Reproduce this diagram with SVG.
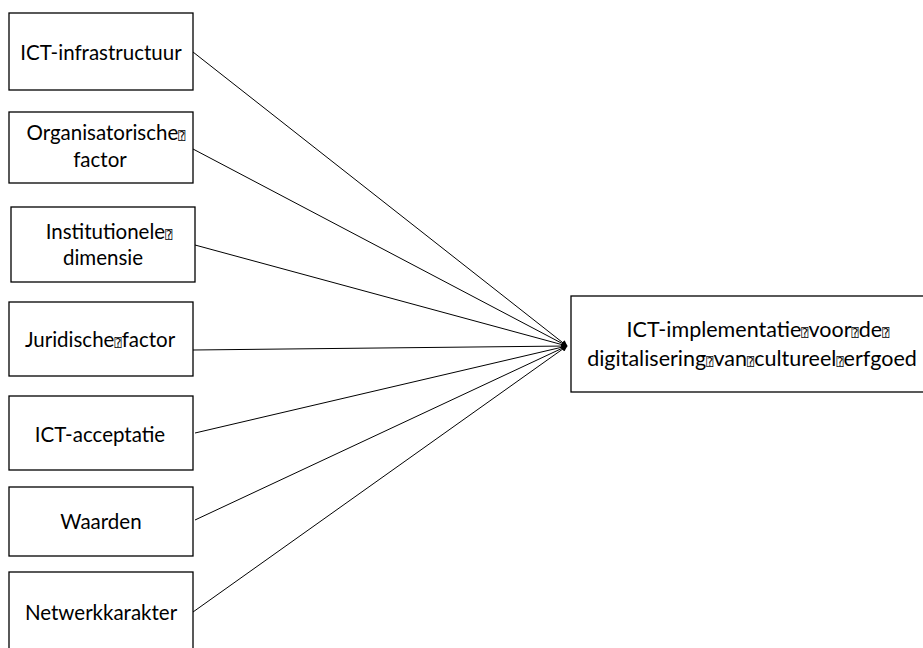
<svg xmlns="http://www.w3.org/2000/svg" width="923" height="648" viewBox="0 0 923 648">
<defs>
<style>
.box{fill:#fff;stroke:#000;stroke-width:1.3}
.t{font-family:Lato,"Liberation Sans",sans-serif;font-size:20.5px;fill:#000;text-anchor:middle}
.tt{font-family:Lato,"Liberation Sans",sans-serif;font-size:21.5px;fill:#000;text-anchor:middle}
.q{font-family:"DejaVu Sans Mono","DejaVu Sans",monospace;font-size:12px}
.c{stroke:#000;stroke-width:1;fill:none}
</style>
<marker id="ah" viewBox="0 0 10 10" refX="9" refY="5" markerWidth="6" markerHeight="6" orient="auto" markerUnits="userSpaceOnUse">
<path d="M0,0 L10,5 L0,10 z" fill="#000"/>
</marker>
</defs>
<rect width="923" height="648" fill="#fff"/>
<g id="connectors">
<line class="c" x1="193" y1="52" x2="567" y2="346" marker-end="url(#ah)"/>
<line class="c" x1="193" y1="149" x2="567" y2="346" marker-end="url(#ah)"/>
<line class="c" x1="195" y1="245" x2="567" y2="346" marker-end="url(#ah)"/>
<line class="c" x1="193" y1="350" x2="567" y2="346" marker-end="url(#ah)"/>
<line class="c" x1="195" y1="433" x2="567" y2="346" marker-end="url(#ah)"/>
<line class="c" x1="195" y1="520" x2="567" y2="346" marker-end="url(#ah)"/>
<line class="c" x1="193" y1="612" x2="567" y2="346" marker-end="url(#ah)"/>
</g>
<g id="n1"><rect class="box" x="9" y="13" width="184" height="77"/><text class="t" x="101" y="60">ICT-infrastructuur</text></g>
<g id="n2"><rect class="box" x="9" y="112" width="184" height="71"/><text class="t" x="106" y="140">Organisatorische<tspan class="q">⍰</tspan></text><text class="t" x="100" y="167">factor</text></g>
<g id="n3"><rect class="box" x="11" y="207" width="184" height="75"/><text class="t" x="109" y="239">Institutionele<tspan class="q">⍰</tspan></text><text class="t" x="103" y="265">dimensie</text></g>
<g id="n4"><rect class="box" x="9" y="302" width="184" height="74"/><text class="t" x="100" y="347">Juridische<tspan class="q">⍰</tspan>factor</text></g>
<g id="n5"><rect class="box" x="9" y="396" width="184" height="74"/><text class="t" x="100" y="442">ICT-acceptatie</text></g>
<g id="n6"><rect class="box" x="9" y="487" width="184" height="69"/><text class="t" x="101" y="529">Waarden</text></g>
<g id="n7"><rect class="box" x="9" y="572" width="184" height="80"/><text class="t" x="101" y="620">Netwerkkarakter</text></g>
<g id="target"><rect class="box" x="571" y="296" width="356" height="96"/>
<text class="tt" x="758" y="337">ICT-implementatie<tspan class="q">⍰</tspan>voor<tspan class="q">⍰</tspan>de<tspan class="q">⍰</tspan></text>
<text class="tt" x="752" y="366">digitalisering<tspan class="q">⍰</tspan>van<tspan class="q">⍰</tspan>cultureel<tspan class="q">⍰</tspan>erfgoed</text>
</g>
</svg>
